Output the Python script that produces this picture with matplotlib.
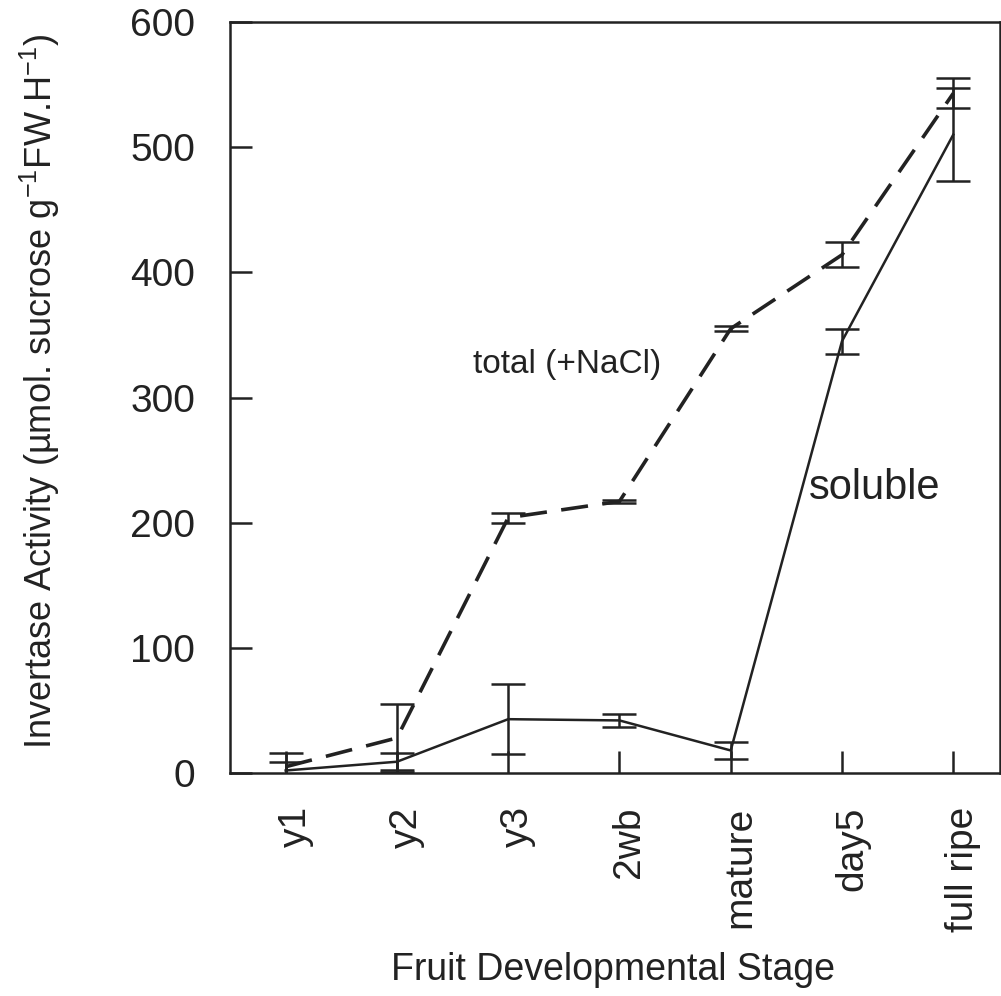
import numpy as np
import matplotlib
matplotlib.use("Agg")
import matplotlib.pyplot as plt
import matplotlib.transforms as mtransforms

plt.rcParams['font.family'] = ['Liberation Sans', 'DejaVu Sans']
plt.rcParams['mathtext.default'] = 'regular'

stages = ["y1", "y2", "y3", "2wb", "mature", "day5", "full ripe"]
total = [5, 28, 204, 217, 355, 414, 543]
total_err = [11, 27, 4, 1, 2, 10, 12]
soluble = [2, 9, 43, 42, 18, 345, 510]
soluble_err = [7, 7, 28, 5, 7, 10, 37]

x = np.arange(1, len(stages) + 1)

fig = plt.figure(figsize=(10.01, 9.96), dpi=100)
ax = fig.add_axes([0.2298, 0.2239, 0.7692, 0.7540])

# lines
ax.plot(x, total, color='#222222', lw=2.6, ls=(0, (7.5, 4)))
ax.plot(x, soluble, color='#222222', lw=1.8)

# error bars (solid, capped)
ax.errorbar(x, total, yerr=total_err, fmt='none', ecolor='#222222',
            elinewidth=1.8, capsize=12, capthick=1.8)
ax.errorbar(x, soluble, yerr=soluble_err, fmt='none', ecolor='#222222',
            elinewidth=1.8, capsize=12, capthick=1.8)

ax.text(2.68, 326, "total (+NaCl)", fontsize=24, va='center', ha='left', color='#222222')
ax.text(5.70, 228, "soluble", fontsize=30, va='center', ha='left', color='#222222')

ax.set_xlim(0.5, 7.42)
ax.set_ylim(0, 600)
ax.set_yticks([0, 100, 200, 300, 400, 500, 600])
ax.set_xticks(x)
ax.set_xticklabels(stages, rotation=90, va='top', ha='center')

ax.tick_params(axis='both', direction='in', length=16, width=1.8, colors='#222222',
               labelsize=28)
ax.tick_params(axis='y', pad=25)
ax.tick_params(axis='x', pad=24)
ax.tick_params(axis='y', right=False)
ax.tick_params(axis='x', top=False)

# nudge rotated x labels slightly right
offset = mtransforms.ScaledTranslation(10 / 100, 0, fig.dpi_scale_trans)
for lab in ax.get_xticklabels():
    lab.set_transform(lab.get_transform() + offset)

for s in ax.spines.values():
    s.set_linewidth(1.8)
    s.set_color('#222222')

ax.set_ylabel("Invertase Activity (µmol. sucrose g$^{-1}$FW.H$^{-1}$)", fontsize=26,
              color='#222222')
ax.yaxis.set_label_coords(-0.218, 0.508)
ax.set_xlabel("Fruit Developmental Stage", fontsize=27, color='#222222')
ax.xaxis.set_label_coords(0.497, -0.238)

fig.savefig("out.png", dpi=100)
